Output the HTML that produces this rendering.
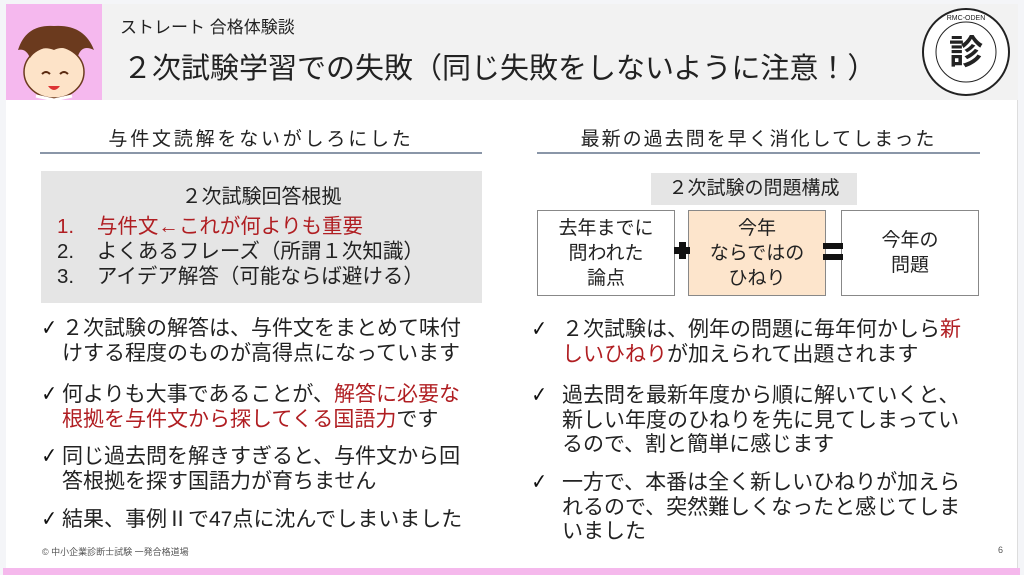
<!DOCTYPE html>
<html><head><meta charset="utf-8"><style>
*{margin:0;padding:0;box-sizing:border-box}
body{width:1024px;height:575px;background:#f4f5f8;position:relative;overflow:hidden;font-family:"Liberation Sans","Noto Sans CJK JP",sans-serif;color:#222}
.a{position:absolute;white-space:nowrap}
.t{font-size:21px;line-height:24.5px}
.r{color:#b01e22}
.ck{position:absolute;font-size:22px;font-weight:bold;font-family:"DejaVu Sans",sans-serif;color:#111;transform:scaleX(0.85)}
.box{position:absolute;border:1.5px solid #888;background:#fff;text-align:center;font-size:19px;line-height:25px;display:flex;align-items:center;justify-content:center}
</style></head><body>
<div class="a" style="left:6px;top:4px;width:1012px;height:564px;background:#fff;border-right:1px solid #ddd"></div>
<div class="a" style="left:6px;top:4px;width:1012px;height:96px;background:#f2f2f2"></div>
<div class="a" style="left:6px;top:4px;width:96px;height:96px;background:#f5b8ee;overflow:hidden">
<svg width="96" height="96" viewBox="0 0 96 96">
<ellipse cx="48" cy="68" rx="30" ry="26" fill="#fde3c8" stroke="#6b3a1e" stroke-width="1.5"/>
<path d="M12 46 Q20 20 48 22 Q78 20 88 46 Q76 40 72 52 Q60 40 48 46 Q34 40 24 54 Q20 44 12 46Z" fill="#6b3a1e"/>
<path d="M36 70 q4 -4 8 0 M54 70 q4 -4 8 0" stroke="#5a2a10" stroke-width="2" fill="none"/>
<path d="M42 82 q6 8 12 0z" fill="#d33"/>
<path d="M30 92 L48 96 L66 92" stroke="#fff" stroke-width="3" fill="none"/>
</svg></div>
<div class="a" style="left:120px;top:13px;font-size:17px">ストレート 合格体験談</div>
<div class="a" style="left:123px;top:51px;font-size:29px;line-height:36px">２次試験学習での失敗（同じ失敗をしないように注意！）</div>
<svg class="a" style="left:920px;top:6px" width="92" height="92" viewBox="0 0 92 92">
<circle cx="46" cy="46" r="43" fill="#fff" stroke="#222" stroke-width="2"/>
<circle cx="46" cy="46" r="30" fill="none" stroke="#222" stroke-width="1"/>
<text x="46" y="58" font-size="34" text-anchor="middle" font-family="Noto Sans CJK JP" font-weight="bold" fill="#222">診</text>
<text x="46" y="14" font-size="7" text-anchor="middle" fill="#222">RMC-ODEN</text>
</svg>

<div class="a" style="left:40px;top:124px;width:442px;text-align:center;font-size:19px;letter-spacing:2.8px">与件文読解をないがしろにした</div>
<div class="a" style="left:40px;top:152px;width:442px;height:2px;background:#8a96a8"></div>
<div class="a" style="left:537px;top:124px;width:443px;text-align:center;font-size:19px;letter-spacing:2px">最新の過去問を早く消化してしまった</div>
<div class="a" style="left:537px;top:152px;width:443px;height:2px;background:#8a96a8"></div>

<div class="a" style="left:41px;top:171px;width:441px;height:132px;background:#e5e5e5"></div>
<div class="a" style="left:41px;top:180px;width:441px;text-align:center;font-size:20px">２次試験回答根拠</div>
<div class="a" style="left:57px;top:214px;font-size:20.5px;line-height:25px"><span class="r">1.&nbsp;&nbsp;&nbsp;&nbsp;与件文←これが何よりも重要</span><br>2.&nbsp;&nbsp;&nbsp;&nbsp;よくあるフレーズ（所謂１次知識）<br>3.&nbsp;&nbsp;&nbsp;&nbsp;アイデア解答（可能ならば避ける）</div>

<div class="ck" style="left:40px;top:316px">✓</div>
<div class="a t" style="left:62px;top:317px"> ２次試験の解答は、与件文をまとめて味付<br>けする程度のものが高得点になっています</div>
<div class="ck" style="left:40px;top:382px">✓</div>
<div class="a t" style="left:62px;top:383px">何よりも大事であることが、<span class="r">解答に必要な<br>根拠を与件文から探してくる国語力</span>です</div>
<div class="ck" style="left:40px;top:444px">✓</div>
<div class="a t" style="left:62px;top:445px">同じ過去問を解きすぎると、与件文から回<br>答根拠を探す国語力が育ちません</div>
<div class="ck" style="left:40px;top:507px">✓</div>
<div class="a t" style="left:62px;top:508px">結果、事例Ⅱで47点に沈んでしまいました</div>

<div class="a" style="left:651px;top:173px;width:206px;height:32px;background:#e5e5e5;text-align:center;font-size:19px;line-height:32px">２次試験の問題構成</div>
<div class="box" style="left:537px;top:210px;width:138px;height:86px">去年までに<br>問われた<br>論点</div>
<div class="box" style="left:688px;top:210px;width:138px;height:86px;background:#fde5cc">今年<br>ならではの<br>ひねり</div>
<div class="box" style="left:841px;top:210px;width:138px;height:86px">今年の<br>問題</div>
<div class="a" style="left:674px;top:247px;width:16px;height:7px;background:#111"></div>
<div class="a" style="left:679px;top:242px;width:7px;height:17px;background:#111"></div>
<div class="a" style="left:823px;top:243px;width:20px;height:6px;background:#111"></div>
<div class="a" style="left:823px;top:254px;width:20px;height:6px;background:#111"></div>

<div class="ck" style="left:530px;top:317px">✓</div>
<div class="a t" style="left:562px;top:318px"> ２次試験は、例年の問題に毎年何かしら<span class="r">新<br>しいひねり</span>が加えられて出題されます</div>
<div class="ck" style="left:530px;top:383px">✓</div>
<div class="a t" style="left:562px;top:384px">過去問を最新年度から順に解いていくと、<br>新しい年度のひねりを先に見てしまってい<br>るので、割と簡単に感じます</div>
<div class="ck" style="left:530px;top:470px">✓</div>
<div class="a t" style="left:562px;top:471px">一方で、本番は全く新しいひねりが加えら<br>れるので、突然難しくなったと感じてしま<br>いました</div>

<div class="a" style="left:42px;top:545px;font-size:9px;color:#555">© 中小企業診断士試験 一発合格道場</div>
<div class="a" style="left:998px;top:545px;font-size:9px;color:#555">6</div>
<div class="a" style="left:3px;top:568px;width:1017px;height:7px;background:#f5b8ec"></div>
</body></html>
